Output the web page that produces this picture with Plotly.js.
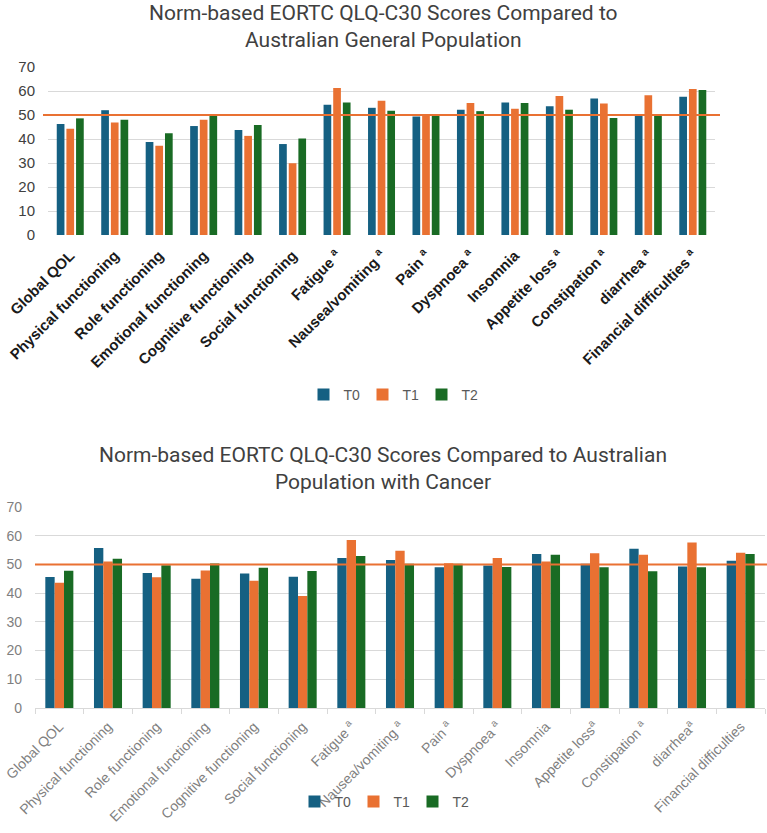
<!DOCTYPE html>
<html>
<head>
<meta charset="utf-8">
<script src="https://cdn.plot.ly/plotly-3.0.1.min.js"></script>
<style>
  html, body { margin: 0; padding: 0; background: #ffffff; }
  #chart { width: 767px; height: 833px; }
</style>
</head>
<body>
<div id="chart"></div>
<script>
// EORTC QLQ-C30 domains, shared by both panels
const categories = [
  'Global QOL', 'Physical functioning', 'Role functioning', 'Emotional functioning',
  'Cognitive functioning', 'Social functioning', 'Fatigue', 'Nausea/vomiting', 'Pain',
  'Dyspnoea', 'Insomnia', 'Appetite loss', 'Constipation', 'diarrhea', 'Financial difficulties'
];

// Tick labels (superscript a marks significant change)
const generalLabels = [
  'Global QOL', 'Physical functioning', 'Role functioning', 'Emotional functioning',
  'Cognitive functioning', 'Social functioning', 'Fatigue <sup>a</sup>', 'Nausea/vomiting <sup>a</sup>',
  'Pain <sup>a</sup>', 'Dyspnoea <sup>a</sup>', 'Insomnia', 'Appetite loss <sup>a</sup>',
  'Constipation <sup>a</sup>', 'diarrhea <sup>a</sup>', 'Financial difficulties <sup>a</sup>'
];
const cancerLabels = [
  'Global QOL', 'Physical functioning', 'Role functioning', 'Emotional functioning',
  'Cognitive functioning', 'Social functioning', 'Fatigue <sup>a</sup>', 'Nausea/vomiting <sup>a</sup>',
  'Pain <sup>a</sup>', 'Dyspnoea <sup>a</sup>', 'Insomnia', 'Appetite loss<sup>a</sup>',
  'Constipation <sup>a</sup>', 'diarrhea<sup>a</sup>', 'Financial difficulties'
];

const timepoints = ['T0', 'T1', 'T2'];

// Norm-based scores vs Australian general population
const generalT0 = [46.3, 52.0, 38.8, 45.4, 43.8, 37.9, 54.3, 53.0, 49.4, 52.2, 55.2, 53.6, 56.9, 50.0, 57.6];
const generalT1 = [44.3, 46.9, 37.2, 48.0, 41.3, 29.9, 61.2, 55.9, 50.1, 55.0, 52.6, 57.9, 54.8, 58.2, 60.8];
const generalT2 = [48.6, 48.0, 42.4, 50.1, 45.8, 40.2, 55.2, 51.8, 50.4, 51.6, 55.0, 52.2, 48.8, 50.0, 60.4];

// Norm-based scores vs Australian population with cancer
const cancerT0 = [45.6, 55.7, 47.0, 45.0, 46.8, 45.7, 52.2, 51.5, 49.0, 49.6, 53.6, 50.2, 55.5, 49.3, 51.3];
const cancerT1 = [43.6, 51.0, 45.5, 47.9, 44.3, 39.0, 58.5, 54.8, 50.4, 52.2, 51.0, 53.9, 53.4, 57.6, 54.1];
const cancerT2 = [47.8, 52.0, 49.7, 50.3, 48.8, 47.7, 52.9, 50.2, 50.2, 49.1, 53.4, 49.0, 47.6, 49.0, 53.6];

// Reference population norm
const normValue = 50;

const colors = ['#156082', '#E97132', '#196B24'];
const W = 767, H = 833;

const topBars = {width: 0.173, offsets: [-0.303, -0.086, 0.131]};
const botBars = {width: 0.192, offsets: [-0.288, -0.096, 0.096]};

const traces = [];
[generalT0, generalT1, generalT2].forEach((vals, i) => {
  traces.push({
    type: 'bar', x: categories, y: vals, name: timepoints[i],
    xaxis: 'x', yaxis: 'y', legend: 'legend',
    marker: {color: colors[i]},
    width: topBars.width, offset: topBars.offsets[i],
    hoverinfo: 'name+y'
  });
});
[cancerT0, cancerT1, cancerT2].forEach((vals, i) => {
  traces.push({
    type: 'bar', x: categories, y: vals, name: timepoints[i],
    xaxis: 'x2', yaxis: 'y2', legend: 'legend2',
    marker: {color: colors[i]},
    width: botBars.width, offset: botBars.offsets[i],
    hoverinfo: 'name+y'
  });
});

const px = v => v / W;
const py = v => 1 - v / H;

const layout = {
  width: W, height: H,
  margin: {l: 0, r: 0, t: 0, b: 0},
  paper_bgcolor: '#ffffff', plot_bgcolor: '#ffffff',
  barmode: 'overlay',
  font: {family: 'Liberation Sans, Arial, sans-serif', color: '#595959'},
  xaxis: {
    domain: [px(48), px(715)], anchor: 'y',
    type: 'category', categoryarray: categories,
    tickvals: categories, ticktext: generalLabels,
    tickangle: -45, ticks: '', showline: false, showgrid: false, zeroline: false,
    ticklabelstandoff: 8,
    tickfont: {family: 'Liberation Sans, Arial, sans-serif', size: 15, color: '#1a1a1a', weight: 'bold'},
    automargin: false
  },
  yaxis: {
    domain: [py(235), py(67)], anchor: 'x',
    range: [0, 70], dtick: 10, showgrid: true, gridcolor: '#d9d9d9', gridwidth: 1,
    zeroline: false, showline: false, ticks: '', ticklabelstandoff: 12,
    tickfont: {size: 15, color: '#404040'},
    automargin: false
  },
  xaxis2: {
    domain: [px(35), px(765)], anchor: 'y2',
    type: 'category', categoryarray: categories,
    tickvals: categories, ticktext: cancerLabels,
    tickangle: -45, ticks: 'outside', tickson: 'boundaries', ticklen: 5, tickcolor: '#d9d9d9',
    showline: true, linecolor: '#d9d9d9', linewidth: 1, showgrid: false, zeroline: false,
    ticklabelstandoff: 4,
    tickfont: {family: 'Liberation Sans, Arial, sans-serif', size: 14, color: '#7f7f7f'},
    automargin: false
  },
  yaxis2: {
    domain: [py(708), py(507)], anchor: 'x2',
    range: [0, 70], dtick: 10, showgrid: true, gridcolor: '#d9d9d9', gridwidth: 1,
    zeroline: false, showline: false, ticks: '', ticklabelstandoff: 12,
    tickfont: {size: 14, color: '#7f7f7f'},
    automargin: false
  },
  legend: {
    orientation: 'h', x: px(392), xanchor: 'center', y: py(395), yanchor: 'middle',
    font: {size: 14, color: '#595959'}, bgcolor: 'rgba(0,0,0,0)',
    itemwidth: 30, entrywidth: 14, traceorder: 'normal'
  },
  legend2: {
    orientation: 'h', x: px(383), xanchor: 'center', y: py(802), yanchor: 'middle',
    font: {size: 14, color: '#595959'}, bgcolor: 'rgba(0,0,0,0)',
    itemwidth: 30, entrywidth: 14, traceorder: 'normal'
  },
  shapes: [
    {type: 'line', xref: 'paper', yref: 'y', x0: px(43), x1: px(720), y0: normValue, y1: normValue,
     line: {color: '#E97132', width: 2}},
    {type: 'line', xref: 'paper', yref: 'y2', x0: px(35), x1: 1, y0: normValue, y1: normValue,
     line: {color: '#E97132', width: 2}}
  ],
  annotations: [
    {xref: 'paper', yref: 'paper', x: px(383), y: py(27), xanchor: 'center', yanchor: 'middle',
     showarrow: false, align: 'center',
     text: 'Norm-based EORTC QLQ-C30 Scores Compared to<br>Australian General Population',
     font: {family: 'Roboto, sans-serif', size: 21, color: '#404040'}},
    {xref: 'paper', yref: 'paper', x: px(383), y: py(468), xanchor: 'center', yanchor: 'middle',
     showarrow: false, align: 'center',
     text: 'Norm-based EORTC QLQ-C30 Scores Compared to Australian<br>Population with Cancer',
     font: {family: 'Roboto, sans-serif', size: 21, color: '#404040'}}
  ]
};

Plotly.newPlot('chart', traces, layout, {displayModeBar: false, staticPlot: true});
</script>
</body>
</html>
